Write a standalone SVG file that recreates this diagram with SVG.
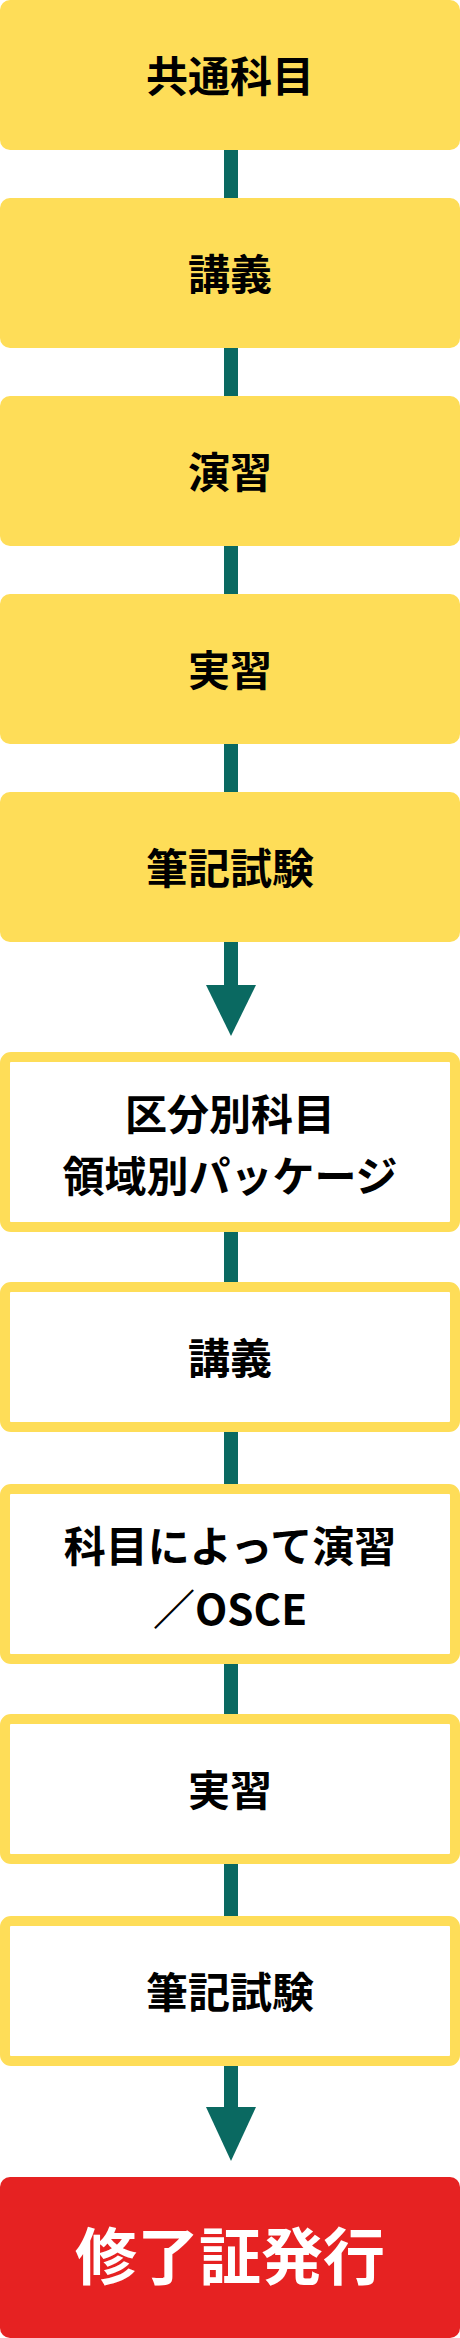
<svg xmlns="http://www.w3.org/2000/svg" width="460" height="2338" viewBox="0 0 460 2338">
<style>
.fill{fill:#FEDD58}
.out{fill:#FFFFFF;stroke:#FEDD58;stroke-width:10}
.red{fill:#E62222}
.t{font-family:"Noto Sans CJK JP","Noto Sans",sans-serif;font-weight:700;font-size:42px;fill:#000;text-anchor:middle}
.tw{font-family:"Noto Sans CJK JP","Noto Sans",sans-serif;font-weight:700;font-size:62px;fill:#FFFFFF;text-anchor:middle}
.c{fill:#0A6961}
</style>
<rect width="460" height="2338" fill="#FFFFFF"/>
<g id="connectors">
<rect class="c" x="224" y="150" width="14" height="48"/>
<rect class="c" x="224" y="348" width="14" height="48"/>
<rect class="c" x="224" y="546" width="14" height="48"/>
<rect class="c" x="224" y="744" width="14" height="48"/>
<rect class="c" x="224" y="942" width="14" height="44"/>
<polygon class="c" points="206,985 256,985 231,1036"/>
<rect class="c" x="224" y="1232" width="14" height="50"/>
<rect class="c" x="224" y="1432" width="14" height="52"/>
<rect class="c" x="224" y="1664" width="14" height="50"/>
<rect class="c" x="224" y="1864" width="14" height="52"/>
<rect class="c" x="224" y="2066" width="14" height="42"/>
<polygon class="c" points="206,2107 256,2107 231,2161"/>
</g>
<g id="n1"><rect class="fill" x="0" y="0" width="460" height="150" rx="10"/><text class="t" x="230" y="92">共通科目</text></g>
<g id="n2"><rect class="fill" x="0" y="198" width="460" height="150" rx="10"/><text class="t" x="230" y="290">講義</text></g>
<g id="n3"><rect class="fill" x="0" y="396" width="460" height="150" rx="10"/><text class="t" x="230" y="488">演習</text></g>
<g id="n4"><rect class="fill" x="0" y="594" width="460" height="150" rx="10"/><text class="t" x="230" y="686">実習</text></g>
<g id="n5"><rect class="fill" x="0" y="792" width="460" height="150" rx="10"/><text class="t" x="230" y="884">筆記試験</text></g>
<g id="n6"><rect class="out" x="5" y="1057" width="450" height="170" rx="6"/><text class="t" x="230" y="1130">区分別科目</text><text class="t" x="230" y="1192">領域別パッケージ</text></g>
<g id="n7"><rect class="out" x="5" y="1287" width="450" height="140" rx="6"/><text class="t" x="230" y="1374">講義</text></g>
<g id="n8"><rect class="out" x="5" y="1489" width="450" height="170" rx="6"/><text class="t" x="230" y="1562">科目によって演習</text><text class="t" x="230" y="1625">／OSCE</text></g>
<g id="n9"><rect class="out" x="5" y="1719" width="450" height="140" rx="6"/><text class="t" x="230" y="1806">実習</text></g>
<g id="n10"><rect class="out" x="5" y="1921" width="450" height="140" rx="6"/><text class="t" x="230" y="2008">筆記試験</text></g>
<g id="n11"><rect class="red" x="0" y="2177" width="460" height="161" rx="10"/><text class="tw" x="230" y="2280">修了証発行</text></g>
</svg>
